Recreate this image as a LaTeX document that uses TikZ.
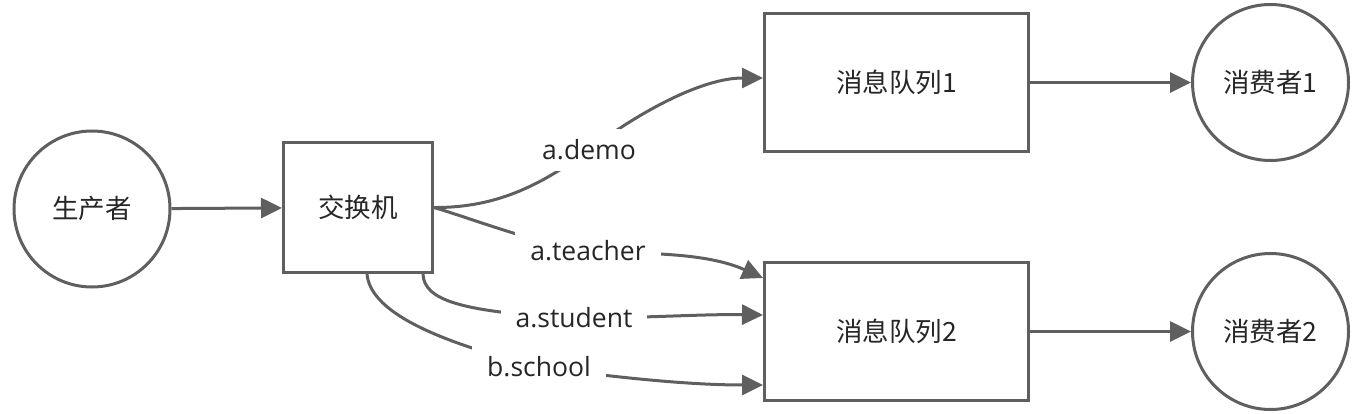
\documentclass[tikz,border=0pt]{standalone}
\usepackage{fontspec}
\setmainfont{Open Sans}
\newfontfamily\cjk{Noto Sans CJK SC}
\usetikzlibrary{arrows.meta}
\definecolor{ln}{HTML}{5F5F5F}
\definecolor{tx}{HTML}{262626}
\begin{document}
\begin{tikzpicture}[x=1pt,y=-1pt,
  font=\fontsize{26.5}{31}\selectfont, text=tx,
  circ/.style={circle, draw=ln, line width=3pt, minimum size=156pt, inner sep=0pt, font=\cjk\fontsize{26.5}{31}\selectfont},
  swbox/.style={rectangle, draw=ln, line width=3pt, minimum width=149pt, minimum height=130pt, inner sep=0pt, font=\cjk\fontsize{26.5}{31}\selectfont},
  qbox/.style={rectangle, draw=ln, line width=3pt, minimum width=264pt, minimum height=138pt, inner sep=0pt, font=\cjk\fontsize{26.5}{31}\selectfont},
  arr/.style={draw=ln, line width=3pt, -{Triangle[length=21pt,width=20pt]}},
  lab/.style={fill=white, inner xsep=15pt, inner ysep=11pt}]
\useasboundingbox (0,0) rectangle (1362,414);

\node[circ] (p) at (92,209) {生产者};
\node[swbox] (sw) at (358,207.5) {交换机};
\node[qbox] (q1) at (896.5,82.5) {消息队列1};
\node[qbox] (q2) at (896.5,331.5) {消息队列2};
\node[circ] (c1) at (1270.5,82.5) {消费者1};
\node[circ] (c2) at (1270.5,331.5) {消费者2};

\coordinate (ld) at (589,150);
\coordinate (lt) at (588,251);
\coordinate (ls) at (574,318);
\coordinate (lb) at (539,367);

\draw[arr] (p) -- (sw);
\draw[arr] (q1) -- (c1);
\draw[arr] (q2) -- (c2);

\draw[arr] (sw.east) .. controls (500,208) and (545,182) .. (ld)
  .. controls (635,115) and (700,78) .. ([yshift=4.5pt]q1.west);
\draw[arr] (sw.east) .. controls (470,218) and (540,245) .. (lt)
  .. controls (645,254) and (705,252) .. ([yshift=53.5pt]q2.west);
\draw[arr] ([xshift=-11pt]sw.south east) .. controls (424,300) and (460,312) .. (ls)
  .. controls (650,318) and (700,314) .. ([yshift=16.5pt]q2.west);
\draw[arr] ([xshift=85pt]sw.south west) .. controls (370,310) and (430,340) .. (lb)
  .. controls (620,378) and (690,385) .. ([yshift=-53.5pt]q2.west);

\node[lab] (tld) at (ld) {a.demo};
\node[lab] (tlt) at (lt) {a.teacher};
\node[lab] (tls) at (ls) {a.student};
\node[lab] (tlb) at (lb) {b.school};
\end{tikzpicture}
\end{document}
